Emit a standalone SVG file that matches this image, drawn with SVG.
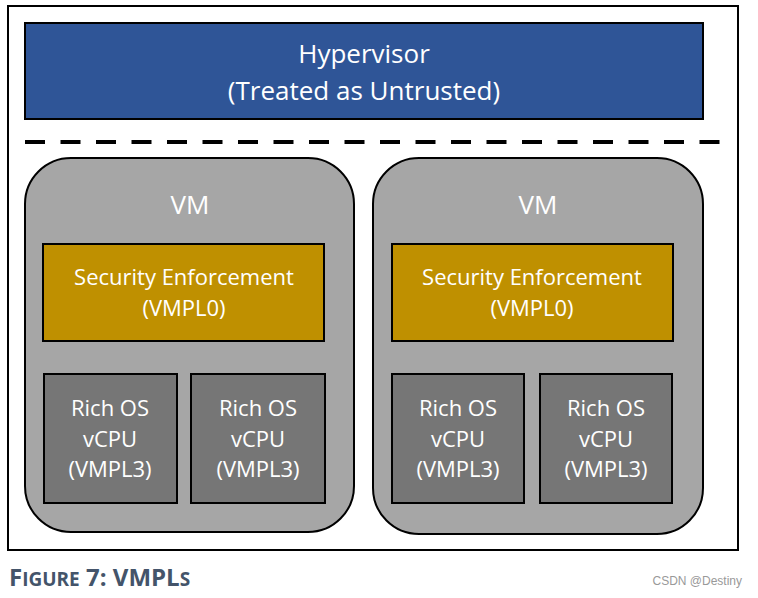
<svg xmlns="http://www.w3.org/2000/svg" width="758" height="598" viewBox="0 0 758 598">
<style>
.t{font-family:"Open Sans","Liberation Sans",sans-serif;fill:#ffffff;text-anchor:middle}
.big{font-size:26px}
.se-t{font-size:22px}
.mid{font-size:22px}
.vm{fill:#a6a6a6;stroke:#000;stroke-width:2}
.se{fill:#bf9000;stroke:#000;stroke-width:2}
.cpu{fill:#767676;stroke:#000;stroke-width:2}
</style>
<rect x="0" y="0" width="758" height="598" fill="#ffffff"/>
<rect id="frame" x="8" y="6" width="730" height="544" fill="#ffffff" stroke="#000" stroke-width="2"/>
<g id="hypervisor">
<rect x="25" y="23" width="678" height="96" fill="#2f5597" stroke="#000" stroke-width="2"/>
<text class="t big" x="364" y="63">Hypervisor</text>
<text class="t big" x="364" y="100">(Treated as Untrusted)</text>
</g>
<g id="connectors">
<line x1="25" y1="142" x2="720" y2="142" stroke="#000" stroke-width="4" stroke-dasharray="20 15.5"/>
</g>
<g id="vm1">
<rect class="vm" x="25" y="158" width="329" height="374" rx="46" ry="46"/>
<text class="t big" x="190" y="214">VM</text>
</g>
<g id="se1">
<rect class="se" x="43" y="244" width="281" height="97"/>
<text class="t se-t" x="184" y="285">Security Enforcement</text>
<text class="t se-t" x="184" y="316">(VMPL0)</text>
</g>
<g id="cpu1a">
<rect class="cpu" x="44" y="374" width="133" height="129"/>
<text class="t mid" x="110" y="416">Rich OS</text>
<text class="t mid" x="110" y="447">vCPU</text>
<text class="t mid" x="110" y="477">(VMPL3)</text>
</g>
<g id="cpu1b">
<rect class="cpu" x="191" y="374" width="134" height="129"/>
<text class="t mid" x="258" y="416">Rich OS</text>
<text class="t mid" x="258" y="447">vCPU</text>
<text class="t mid" x="258" y="477">(VMPL3)</text>
</g>
<g id="vm2">
<rect class="vm" x="373" y="158" width="330" height="376" rx="46" ry="46"/>
<text class="t big" x="538" y="214">VM</text>
</g>
<g id="se2">
<rect class="se" x="392" y="244" width="281" height="97"/>
<text class="t se-t" x="532" y="285">Security Enforcement</text>
<text class="t se-t" x="532" y="316">(VMPL0)</text>
</g>
<g id="cpu2a">
<rect class="cpu" x="392" y="374" width="132" height="129"/>
<text class="t mid" x="458" y="416">Rich OS</text>
<text class="t mid" x="458" y="447">vCPU</text>
<text class="t mid" x="458" y="477">(VMPL3)</text>
</g>
<g id="cpu2b">
<rect class="cpu" x="540" y="374" width="132" height="129"/>
<text class="t mid" x="606" y="416">Rich OS</text>
<text class="t mid" x="606" y="447">vCPU</text>
<text class="t mid" x="606" y="477">(VMPL3)</text>
</g>
<text id="caption" x="9" y="586" font-family="'Open Sans','Liberation Sans',sans-serif" font-weight="bold" fill="#44546a" font-size="24">F<tspan font-size="19">IGURE</tspan> 7: VMPL<tspan font-size="19">S</tspan></text>
<text id="watermark" x="742" y="585" font-family="'Liberation Sans',sans-serif" font-size="12" fill="#999999" text-anchor="end">CSDN @Destiny</text>
</svg>
